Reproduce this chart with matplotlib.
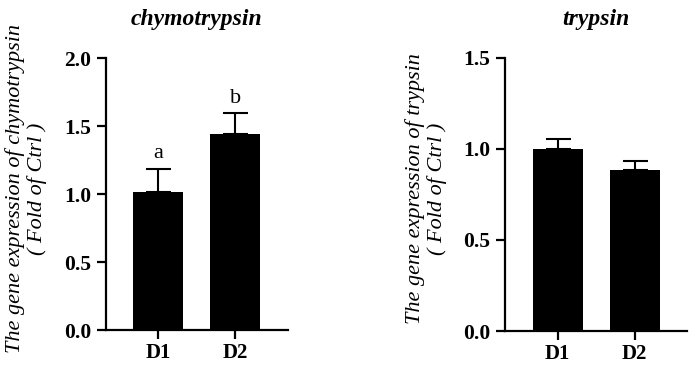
import numpy as np
import matplotlib
matplotlib.use('Agg')
import matplotlib.pyplot as plt

# data
groups = ['D1', 'D2']
chymo_mean = [1.017, 1.444]
chymo_err = [0.169, 0.152]
chymo_letters = ['a', 'b']
tryp_mean = [1.0, 0.885]
tryp_err = [0.055, 0.05]

plt.rcParams['font.family'] = 'Liberation Serif'

fig = plt.figure(figsize=(6.92, 3.73), dpi=100)
ax1 = fig.add_axes([0.153, 0.115, 0.263, 0.729])
ax2 = fig.add_axes([0.730, 0.1126, 0.263, 0.732])


def draw_panel(ax, means, errs, ymax, yticks, title, ylabel, letters=None):
    x = np.arange(len(groups))
    ax.bar(x, means, width=0.65, color='black', zorder=2)
    ax.errorbar(x, means, yerr=[np.zeros(len(errs)), errs], fmt='none',
                ecolor='black', elinewidth=1.5, capsize=9, capthick=1.5, zorder=1)
    ax.set_xlim(-0.68, 1.68)
    ax.set_ylim(0, ymax)
    ax.set_yticks(yticks)
    ax.set_yticklabels(['{:.1f}'.format(v) for v in yticks], fontweight='bold', fontsize=15.5)
    ax.set_xticks(x)
    ax.set_xticklabels(groups, fontweight='bold', fontsize=15)
    for s in ['top', 'right']:
        ax.spines[s].set_visible(False)
    for s in ['left', 'bottom']:
        ax.spines[s].set_linewidth(1.6)
    ax.tick_params(axis='both', width=1.6, length=6.5, pad=3)
    ax.tick_params(axis='y', pad=4)
    ax.set_title(title, fontsize=17, fontweight='bold', fontstyle='italic', pad=24)
    ax.set_ylabel(ylabel, fontsize=16, fontstyle='italic', linespacing=1.15, labelpad=12)
    ax.yaxis.label.set_y(0.52)
    if letters:
        for xi, m, e, t in zip(x, means, errs, letters):
            ax.text(xi, m + e + 0.04, t, ha='center', va='bottom', fontsize=16)


draw_panel(ax1, chymo_mean, chymo_err, 2.0, [0.0, 0.5, 1.0, 1.5, 2.0],
           'chymotrypsin', 'The gene expression of chymotrypsin\n( Fold of Ctrl )',
           chymo_letters)
draw_panel(ax2, tryp_mean, tryp_err, 1.5, [0.0, 0.5, 1.0, 1.5],
           'trypsin', 'The gene expression of trypsin\n( Fold of Ctrl )')

fig.savefig('out.png', dpi=100)
